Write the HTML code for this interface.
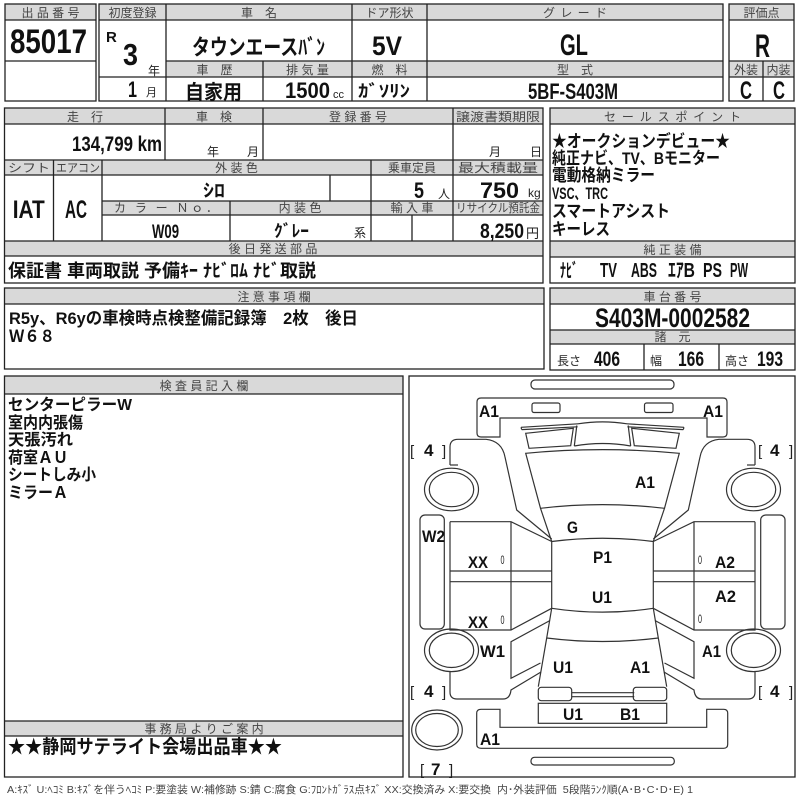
<!DOCTYPE html>
<html><head><meta charset="utf-8"><style>
html,body{margin:0;padding:0;background:#fff}
svg{display:block}
.b{fill:#d9d9d9}
.l{stroke:#222;stroke-width:1.3;fill:none}
.h{font-family:"Liberation Sans","Noto Sans CJK JP",sans-serif;font-size:12px;fill:#444;text-anchor:middle}
.v{font-family:"Liberation Sans","Noto Sans CJK JP",sans-serif;font-weight:bold;fill:#111}
.n{font-family:"Liberation Sans","Noto Sans CJK JP",sans-serif;fill:#222}
.d{font-family:"Liberation Sans",sans-serif;font-weight:bold;font-size:17px;fill:#111}
.k{stroke:#333;stroke-width:1.2;fill:none}
</style></head><body>
<svg width="800" height="800" viewBox="0 0 800 800" xmlns="http://www.w3.org/2000/svg">
<rect x="0" y="0" width="800" height="800" fill="#fff"/>

<!-- ===== TOP ROW ===== -->
<rect class="b" x="5" y="4" width="91" height="16"/>
<rect class="b" x="99" y="4" width="624" height="16"/>
<rect class="b" x="166" y="61" width="557" height="16"/>
<rect class="b" x="729" y="4" width="65" height="16"/>
<rect class="b" x="729" y="61" width="65" height="16"/>

<rect class="l" x="5" y="4" width="91" height="97"/>
<path class="l" d="M5 20H96M5 61H96"/>
<rect class="l" x="99" y="4" width="624" height="97"/>
<path class="l" d="M99 20H723M166 61H723M99 77H723M166 4V101M352 4V101M427 4V101M263 61V101"/>
<rect class="l" x="729" y="4" width="65" height="97"/>
<path class="l" d="M729 20H794M729 61H794M729 77H794M763 61V101"/>

<text class="h" x="50.5" y="17">出 品 番 号</text>
<text class="h" x="132.5" y="17">初度登録</text>
<text class="h" x="259" y="17">車　名</text>
<text class="h" x="389.5" y="17">ドア形状</text>
<text class="h" x="575" y="17" textLength="64" lengthAdjust="spacing">グ レ ー ド</text>
<text class="h" x="214.5" y="74">車　歴</text>
<text class="h" x="307.5" y="74">排 気 量</text>
<text class="h" x="389.5" y="74">燃　料</text>
<text class="h" x="575" y="74">型　式</text>
<text class="h" x="761.5" y="17">評価点</text>
<text class="h" x="746" y="74">外装</text>
<text class="h" x="778.5" y="74">内装</text>

<text class="v" x="10" y="53" font-size="34" textLength="77" lengthAdjust="spacingAndGlyphs">85017</text>
<text class="v" x="106" y="42" font-size="15">R</text>
<text class="v" x="123" y="65" font-size="31" textLength="15" lengthAdjust="spacingAndGlyphs">3</text>
<text class="n" x="148" y="75" font-size="12">年</text>
<text class="v" x="128" y="97" font-size="22" textLength="9" lengthAdjust="spacingAndGlyphs">1</text>
<text class="n" x="146" y="96" font-size="11">月</text>
<text class="v" x="192" y="55" font-size="22" textLength="133" lengthAdjust="spacingAndGlyphs">タウンエースﾊﾞﾝ</text>
<text class="v" x="372" y="55" font-size="27" textLength="30" lengthAdjust="spacingAndGlyphs">5V</text>
<text class="v" x="560" y="55" font-size="30" textLength="28" lengthAdjust="spacingAndGlyphs">GL</text>
<text class="v" x="755" y="57" font-size="32" textLength="15" lengthAdjust="spacingAndGlyphs">R</text>
<text class="v" x="740" y="99" font-size="25" textLength="12" lengthAdjust="spacingAndGlyphs">C</text>
<text class="v" x="773" y="99" font-size="25" textLength="12" lengthAdjust="spacingAndGlyphs">C</text>
<text class="v" x="185" y="99" font-size="20" textLength="57" lengthAdjust="spacingAndGlyphs">自家用</text>
<text class="v" x="285" y="98" font-size="22" textLength="45" lengthAdjust="spacingAndGlyphs">1500</text>
<text class="n" x="333" y="98" font-size="11">cc</text>
<text class="v" x="358" y="97" font-size="17" textLength="52" lengthAdjust="spacingAndGlyphs">ｶﾞｿﾘﾝ</text>
<text class="v" x="528" y="99" font-size="22" textLength="90" lengthAdjust="spacingAndGlyphs">5BF-S403M</text>

<!-- ===== MIDDLE LEFT BOX ===== -->
<rect class="b" x="4.5" y="108" width="538.5" height="16"/>
<rect class="b" x="4.5" y="160" width="538.5" height="15"/>
<rect class="b" x="102" y="201" width="441" height="14"/>
<rect class="b" x="4.5" y="241" width="538.5" height="15"/>
<rect class="l" x="4.5" y="108" width="538.5" height="175"/>
<path class="l" d="M4.5 124H543M4.5 160H543M4.5 175H543M102 201H543M102 215H543M4.5 241H543M4.5 256H543
M165 108V160M263 108V160M453 108V241M53.5 160V241M102 160V241M371 160V241M330 175V201M230 201V241M412 215V241"/>

<text class="h" x="85" y="121">走　行</text>
<text class="h" x="214" y="121">車　検</text>
<text class="h" x="358" y="121">登 録 番 号</text>
<text class="h" x="498" y="121" textLength="84" lengthAdjust="spacingAndGlyphs">譲渡書類期限</text>
<text class="h" x="29" y="172" textLength="42" lengthAdjust="spacingAndGlyphs">シフト</text>
<text class="h" x="78" y="172" textLength="44" lengthAdjust="spacingAndGlyphs">エアコン</text>
<text class="h" x="236.5" y="172">外 装 色</text>
<text class="h" x="412" y="172">乗車定員</text>
<text class="h" x="498" y="172" textLength="80" lengthAdjust="spacingAndGlyphs">最大積載量</text>
<text class="h" x="166" y="212" textLength="104" lengthAdjust="spacing">カ ラ ー Ｎｏ．</text>
<text class="h" x="300" y="212">内 装 色</text>
<text class="h" x="412" y="212">輸 入 車</text>
<text class="h" x="498" y="212" textLength="84" lengthAdjust="spacingAndGlyphs">リサイクル預託金</text>
<text class="h" x="273" y="253">後 日 発 送 部 品</text>

<text class="v" x="72" y="151" font-size="21" textLength="90" lengthAdjust="spacingAndGlyphs">134,799 km</text>
<text class="n" x="207" y="156" font-size="12">年</text>
<text class="n" x="247" y="156" font-size="12">月</text>
<text class="n" x="489" y="156" font-size="12">月</text>
<text class="n" x="530" y="156" font-size="12">日</text>
<text class="v" x="12.7" y="218" font-size="25" textLength="32" lengthAdjust="spacingAndGlyphs">IAT</text>
<text class="v" x="65" y="218" font-size="25" textLength="22" lengthAdjust="spacingAndGlyphs">AC</text>
<text class="v" x="203" y="197" font-size="18" textLength="22" lengthAdjust="spacingAndGlyphs">ｼﾛ</text>
<text class="v" x="414" y="198" font-size="22" textLength="10" lengthAdjust="spacingAndGlyphs">5</text>
<text class="n" x="438" y="198" font-size="12">人</text>
<text class="v" x="480" y="198" font-size="22" textLength="39" lengthAdjust="spacingAndGlyphs">750</text>
<text class="n" x="528" y="197" font-size="12">kg</text>
<text class="v" x="152" y="238" font-size="19" textLength="27" lengthAdjust="spacingAndGlyphs">W09</text>
<text class="v" x="274" y="237" font-size="17" textLength="35" lengthAdjust="spacingAndGlyphs">ｸﾞﾚｰ</text>
<text class="n" x="354" y="237" font-size="12">系</text>
<text class="v" x="480" y="238" font-size="21" textLength="44" lengthAdjust="spacingAndGlyphs">8,250</text>
<text class="n" x="526" y="238" font-size="13">円</text>
<text class="v" x="8" y="277" font-size="18" textLength="308" lengthAdjust="spacingAndGlyphs">保証書 車両取説 予備ｷｰ ﾅﾋﾞﾛﾑ ﾅﾋﾞ取説</text>

<!-- ===== SALES POINT BOX ===== -->
<rect class="b" x="550" y="108" width="245" height="16"/>
<rect class="b" x="550" y="241" width="245" height="16"/>
<rect class="l" x="550" y="108" width="245" height="175"/>
<path class="l" d="M550 124H795M550 241H795M550 257H795"/>
<text class="h" x="672.5" y="121" textLength="137" lengthAdjust="spacing">セ ー ル ス ポ イ ン ト</text>
<text class="h" x="672.5" y="254">純 正 装 備</text>
<text class="v" x="552" y="147" font-size="17" textLength="178" lengthAdjust="spacingAndGlyphs">★オークションデビュー★</text>
<text class="v" x="552" y="164" font-size="17" textLength="168" lengthAdjust="spacingAndGlyphs">純正ナビ、TV、Bモニター</text>
<text class="v" x="552" y="181" font-size="17" textLength="103" lengthAdjust="spacingAndGlyphs">電動格納ミラー</text>
<text class="v" x="552" y="199" font-size="17" textLength="56" lengthAdjust="spacingAndGlyphs">VSC、TRC</text>
<text class="v" x="552" y="217" font-size="17" textLength="118" lengthAdjust="spacingAndGlyphs">スマートアシスト</text>
<text class="v" x="552" y="235" font-size="17" textLength="58" lengthAdjust="spacingAndGlyphs">キーレス</text>
<text class="v" x="560" y="277" font-size="19" textLength="18" lengthAdjust="spacingAndGlyphs">ﾅﾋﾞ</text>
<text class="v" x="600" y="277" font-size="20" textLength="17" lengthAdjust="spacingAndGlyphs">TV</text>
<text class="v" x="631" y="277" font-size="20" textLength="26" lengthAdjust="spacingAndGlyphs">ABS</text>
<text class="v" x="668" y="277" font-size="20" textLength="27" lengthAdjust="spacingAndGlyphs">ｴｱB</text>
<text class="v" x="703" y="277" font-size="20" textLength="19" lengthAdjust="spacingAndGlyphs">PS</text>
<text class="v" x="730" y="277" font-size="20" textLength="18" lengthAdjust="spacingAndGlyphs">PW</text>

<!-- ===== CHASSIS BOX ===== -->
<rect class="b" x="550" y="288" width="245" height="16"/>
<rect class="b" x="550" y="330" width="245" height="14"/>
<rect class="l" x="550" y="288" width="245" height="82"/>
<path class="l" d="M550 304H795M550 330H795M550 344H795M644 344V370M719 344V370"/>
<text class="h" x="672.5" y="301">車 台 番 号</text>
<text class="h" x="672.5" y="341">諸　元</text>
<text class="v" x="595" y="327" font-size="27" textLength="155" lengthAdjust="spacingAndGlyphs">S403M-0002582</text>
<text class="n" x="557" y="365" font-size="12">長さ</text>
<text class="v" x="594" y="366" font-size="21" textLength="26" lengthAdjust="spacingAndGlyphs">406</text>
<text class="n" x="650" y="365" font-size="12">幅</text>
<text class="v" x="678" y="366" font-size="21" textLength="26" lengthAdjust="spacingAndGlyphs">166</text>
<text class="n" x="725" y="365" font-size="12">高さ</text>
<text class="v" x="757" y="366" font-size="21" textLength="26" lengthAdjust="spacingAndGlyphs">193</text>

<!-- ===== NOTES BOX ===== -->
<rect class="b" x="4.5" y="288" width="539.5" height="16"/>
<rect class="l" x="4.5" y="288" width="539.5" height="81"/>
<path class="l" d="M4.5 304H544"/>
<text class="h" x="274" y="301">注 意 事 項 欄</text>
<text class="v" x="9" y="324" font-size="17" textLength="349" lengthAdjust="spacingAndGlyphs">R5y、R6yの車検時点検整備記録簿　2枚　後日</text>
<text class="v" x="9" y="342" font-size="17" textLength="46" lengthAdjust="spacingAndGlyphs">Ｗ６８</text>

<!-- ===== INSPECTOR BOX ===== -->
<rect class="b" x="4.5" y="376" width="398.5" height="18"/>
<rect class="b" x="4.5" y="721" width="398.5" height="15"/>
<rect class="l" x="4.5" y="376" width="398.5" height="401"/>
<path class="l" d="M4.5 394H403M4.5 721H403M4.5 736H403"/>
<text class="h" x="204" y="390">検 査 員 記 入 欄</text>
<text class="h" x="204" y="733">事 務 局 よ り ご 案 内</text>
<text class="v" x="8" y="410" font-size="16" textLength="124" lengthAdjust="spacingAndGlyphs">センターピラーW</text>
<text class="v" x="8" y="428" font-size="16" textLength="75" lengthAdjust="spacingAndGlyphs">室内内張傷</text>
<text class="v" x="8" y="445" font-size="16" textLength="65" lengthAdjust="spacingAndGlyphs">天張汚れ</text>
<text class="v" x="8" y="463" font-size="16" textLength="60" lengthAdjust="spacingAndGlyphs">荷室ＡＵ</text>
<text class="v" x="8" y="480" font-size="16" textLength="88" lengthAdjust="spacingAndGlyphs">シートしみ小</text>
<text class="v" x="8" y="498" font-size="16" textLength="60" lengthAdjust="spacingAndGlyphs">ミラーＡ</text>
<text class="v" x="8" y="753" font-size="19" textLength="274" lengthAdjust="spacingAndGlyphs">★★静岡サテライト会場出品車★★</text>

<!-- ===== DIAGRAM BOX ===== -->
<rect class="l" x="409" y="376" width="386" height="401"/>

<g class="k">
  <rect x="531" y="380" width="143" height="9" rx="4"/>
  <path d="M481 398H723Q727 398 727 402V433Q727 437 723 437H707V418H500V437H481Q477 437 477 433V402Q477 398 481 398Z"/>
  <rect x="532" y="403" width="28" height="9.5" rx="2"/>
  <rect x="644.5" y="403" width="28.5" height="9.5" rx="2"/>
  <path d="M578 423.8Q602.5 420 627 423.8"/>
  <path d="M574.3 446Q602.5 441 630.7 446"/>
  <path d="M525.7 453.3Q602.5 446 679.3 453.3L664.5 508.3Q602.5 501 540.5 508.3Z"/>
  <path d="M551.7 541.5Q602.5 535 653.3 541.5"/>
  <path d="M551.7 608.3Q602.5 616 653.3 608.3"/>
  <path d="M546.7 638Q602.5 645 658.3 638"/>
  <path d="M571.7 692.7H634.3M571.7 696.7H634.3"/>
  <rect x="538.3" y="703.3" width="128.4" height="20"/>
  <path d="M481 709.3H500V727.3H706.7V709.3H723.7Q727.7 709.3 727.7 713.3V744.3Q727.7 748.3 723.7 748.3H481Q476.7 748.3 476.7 744.3V713.3Q476.7 709.3 481 709.3Z"/>
  <rect x="531" y="757.3" width="143.3" height="7.7" rx="3.5"/>
  <ellipse cx="437" cy="730" rx="25.3" ry="20"/>
  <ellipse cx="437" cy="730" rx="21.3" ry="16.5"/>

  <g id="side">
    <path d="M521 427.3L578 423.8M521.7 429.6L577.6 426.8M521 427.3L521.7 429.6"/>
    <path d="M525.7 433.3L573.3 428.3L570.7 445.7L529 448.3Z"/>
    <path d="M576.8 425.5L574.3 446"/>
    <path d="M540.5 508.3L551.7 541.5"/>
    <path d="M450 465V447Q450 439.3 458 439.3H486Q502 441 505 457L516.7 510L551.7 539"/>
    <path d="M450 465H458"/>
    <ellipse cx="451.5" cy="489.5" rx="27" ry="21.3"/>
    <ellipse cx="451.5" cy="489.5" rx="22.2" ry="17.2"/>
    <rect x="420" y="515" width="24.3" height="114" rx="5"/>
    <path d="M450 521.7H511L551.7 541.5"/>
    <path d="M450 521.7V630H511L551.7 608.3"/>
    <path d="M511 521.7V630"/>
    <path d="M551.7 541.5V608.3"/>
    <path d="M450 571H551.7M450 581.7H551.7"/>
    <path d="M550 620.5L511 641.7V678.3L540.5 663"/>
    <ellipse cx="451.5" cy="650.3" rx="27" ry="21.3"/>
    <ellipse cx="451.5" cy="650.3" rx="22.2" ry="17.2"/>
    <path d="M450 672V692Q450 699 457 699H503Q510 699 511 690L541 672"/>
    <path d="M551.7 608.3L546.7 638L538.3 686.7"/>
    <rect x="538.3" y="687.3" width="33.4" height="13.4" rx="3"/>
  </g>
  <use href="#side" transform="translate(1205,0) scale(-1,1)"/>
</g>

<text class="d" x="479" y="417" textLength="20" lengthAdjust="spacingAndGlyphs">A1</text>
<text class="d" x="703" y="417" textLength="20" lengthAdjust="spacingAndGlyphs">A1</text>
<text class="n" x="410" y="456" font-size="15">[</text>
<text class="d" x="424" y="456">4</text>
<text class="n" x="442" y="456" font-size="15">]</text>
<text class="n" x="758" y="456" font-size="15">[</text>
<text class="d" x="770" y="456">4</text>
<text class="n" x="789" y="456" font-size="15">]</text>
<text class="d" x="635" y="488" textLength="20" lengthAdjust="spacingAndGlyphs">A1</text>
<text class="d" x="567" y="533" textLength="11" lengthAdjust="spacingAndGlyphs">G</text>
<text class="d" x="422" y="542" textLength="23" lengthAdjust="spacingAndGlyphs">W2</text>
<text class="d" x="468" y="568" textLength="20" lengthAdjust="spacingAndGlyphs">XX</text>
<text class="n" x="500.5" y="564" font-size="12" textLength="4" lengthAdjust="spacingAndGlyphs">0</text>
<text class="d" x="593" y="563" textLength="19" lengthAdjust="spacingAndGlyphs">P1</text>
<text class="n" x="698" y="564" font-size="12" textLength="4" lengthAdjust="spacingAndGlyphs">0</text>
<text class="d" x="715" y="568" textLength="20" lengthAdjust="spacingAndGlyphs">A2</text>
<text class="d" x="592" y="603" textLength="20" lengthAdjust="spacingAndGlyphs">U1</text>
<text class="d" x="715" y="602" textLength="21" lengthAdjust="spacingAndGlyphs">A2</text>
<text class="d" x="468" y="628" textLength="20" lengthAdjust="spacingAndGlyphs">XX</text>
<text class="n" x="500.5" y="624" font-size="12" textLength="4" lengthAdjust="spacingAndGlyphs">0</text>
<text class="n" x="698" y="623" font-size="12" textLength="4" lengthAdjust="spacingAndGlyphs">0</text>
<text class="d" x="480" y="657" textLength="25" lengthAdjust="spacingAndGlyphs">W1</text>
<text class="d" x="702" y="657" textLength="19" lengthAdjust="spacingAndGlyphs">A1</text>
<text class="d" x="553" y="673" textLength="20" lengthAdjust="spacingAndGlyphs">U1</text>
<text class="d" x="630" y="673" textLength="20" lengthAdjust="spacingAndGlyphs">A1</text>
<text class="n" x="410" y="697" font-size="15">[</text>
<text class="d" x="424" y="697">4</text>
<text class="n" x="442" y="697" font-size="15">]</text>
<text class="n" x="758" y="697" font-size="15">[</text>
<text class="d" x="770" y="697">4</text>
<text class="n" x="789" y="697" font-size="15">]</text>
<text class="d" x="563" y="720" textLength="20" lengthAdjust="spacingAndGlyphs">U1</text>
<text class="d" x="620" y="720" textLength="20" lengthAdjust="spacingAndGlyphs">B1</text>
<text class="d" x="480" y="745" textLength="20" lengthAdjust="spacingAndGlyphs">A1</text>
<text class="n" x="420" y="775" font-size="15">[</text>
<text class="d" x="431" y="775">7</text>
<text class="n" x="449" y="775" font-size="15">]</text>

<text x="7" y="793" font-size="10.5" fill="#444" font-family="Liberation Sans, Noto Sans CJK JP, sans-serif" textLength="686" lengthAdjust="spacingAndGlyphs" xml:space="preserve">A:ｷｽﾞ U:ﾍｺﾐ B:ｷｽﾞを伴うﾍｺﾐ P:要塗装 W:補修跡 S:錆 C:腐食 G:ﾌﾛﾝﾄｶﾞﾗｽ点ｷｽﾞ XX:交換済み X:要交換  内･外装評価  5段階ﾗﾝｸ順(A･B･C･D･E) 1</text>
</svg>
</body></html>
